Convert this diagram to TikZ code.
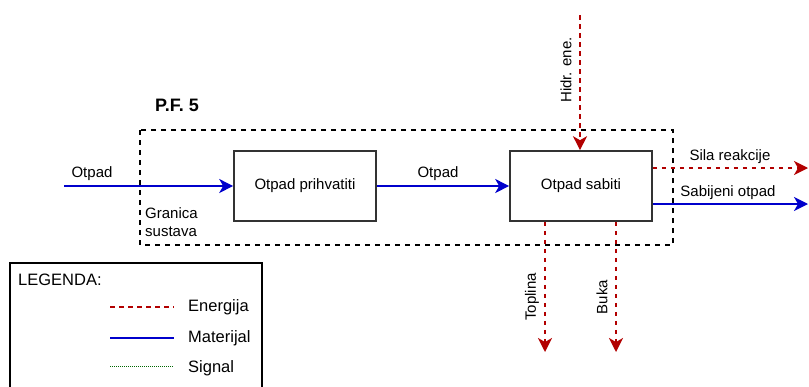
\documentclass[tikz,border=0pt]{standalone}
\usepackage{fontspec}
\setmainfont{Liberation Sans}
\usetikzlibrary{arrows.meta}
\definecolor{energyred}{HTML}{B20000}
\definecolor{matblue}{HTML}{0000CC}
\definecolor{signalgreen}{HTML}{006600}
\definecolor{boxgray}{HTML}{333333}
\tikzset{
  funcbox/.style={draw=boxgray,line width=1.6pt,minimum width=142pt,minimum height=70pt,inner sep=0pt,font=\fontsize{15}{18}\selectfont},
  energy/.style={draw=energyred,line width=1.5pt,dash pattern=on 4.5pt off 4.5pt},
  material/.style={draw=matblue,line width=1.5pt},
  signal/.style={draw=signalgreen,line width=1pt,dash pattern=on 1pt off 1pt},
  boundary/.style={draw=black,line width=1.5pt,dash pattern=on 5pt off 5pt},
  lbl/.style={inner sep=0pt,font=\fontsize{15}{18}\selectfont},
  legtext/.style={inner sep=0pt,anchor=west,font=\fontsize{16.5}{20}\selectfont}
}
\begin{document}
\begin{tikzpicture}[x=1pt,y=-1pt,>={Stealth[length=14pt,width=14pt,inset=4pt]}]
\useasboundingbox (0,0) rectangle (809,386);
% granica sustava
\draw[boundary] (140,130) rectangle (673,245);
\node[inner sep=0pt,font=\fontsize{18}{22}\selectfont\bfseries] (pf) at (177,105) {P.F. 5};
\node[lbl,anchor=north west,align=left] (granica) at (145,207) {Granica\\sustava};
% funkcije
\node[funcbox] (prihvat) at (305,186) {Otpad prihvatiti};
\node[funcbox] (sabiti) at (581,186) {Otpad sabiti};
\coordinate (ulaz) at (64,186);
\coordinate (hidr) at (580,15);
\coordinate (silakraj) at (808,168);
\coordinate (sabijkraj) at (808,204);
\coordinate (toplkraj) at (545,352);
\coordinate (bukakraj) at (616,352);
% materijal
\draw[material,->] (ulaz) -- (prihvat.west);
\node[lbl] (otpad1) at (92,174) {Otpad};
\draw[material,->] (prihvat) -- (sabiti);
\node[lbl] (otpad2) at (438,174) {Otpad};
\draw[material,->] (sabiti.east |- sabijkraj) -- (sabijkraj);
\node[lbl] (sabijeni) at (728,193) {Sabijeni otpad};
% energija
\draw[energy,->] (hidr) -- (hidr |- sabiti.north);
\node[lbl,rotate=90] (hidrlbl) at (566,70) {Hidr. ene.};
\draw[energy,->] (sabiti.east |- silakraj) -- (silakraj);
\node[lbl] (sila) at (730,157) {Sila reakcije};
\draw[energy,->] (toplkraj |- sabiti.south) -- (toplkraj);
\node[lbl,rotate=90] (topllbl) at (532,297) {Toplina};
\draw[energy,->] (bukakraj |- sabiti.south) -- (bukakraj);
\node[lbl,rotate=90] (bukalbl) at (602,297) {Buka};
% legenda
\draw[line width=1.5pt] (10,263) rectangle (262,392);
\node[legtext] (legenda) at (18,280) {LEGENDA:};
\draw[energy] (110,307) coordinate (le1) -- (174,307) coordinate (le2);
\node[legtext] (lenergija) at (188,307) {Energija};
\draw[material] (110,338) coordinate (lm1) -- (174,338) coordinate (lm2);
\node[legtext] (lmaterijal) at (188,338) {Materijal};
\draw[signal] (110,366) coordinate (ls1) -- (174,366) coordinate (ls2);
\node[legtext] (lsignal) at (188,368) {Signal};
\end{tikzpicture}
\end{document}
